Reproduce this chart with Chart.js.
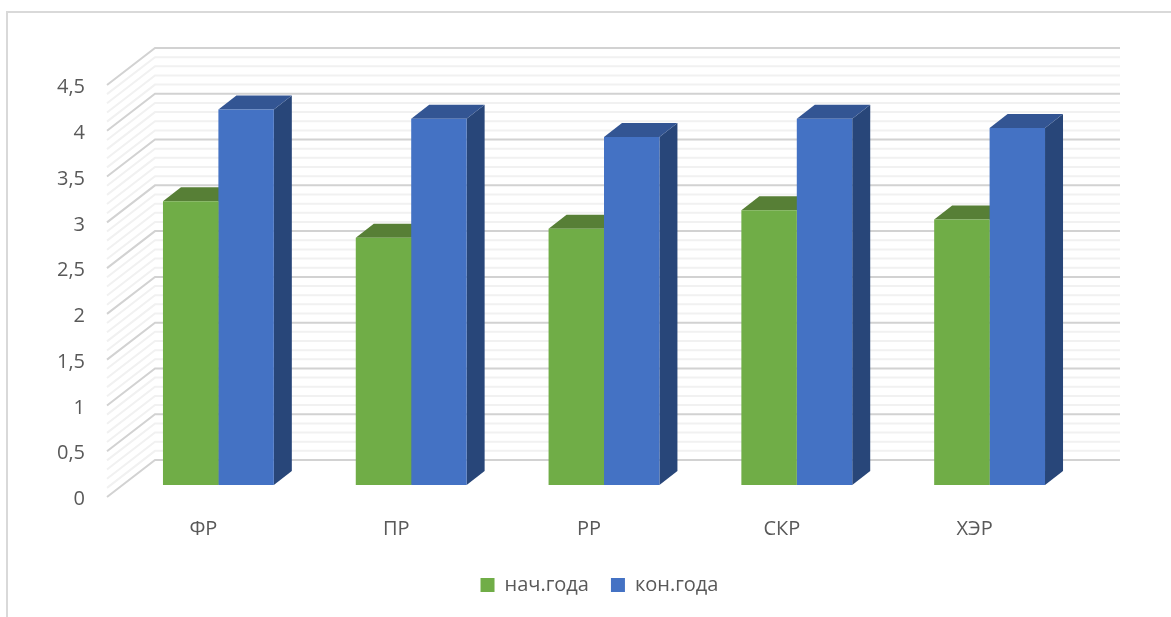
<!DOCTYPE html>
<html>
<head>
<meta charset="utf-8">
<title>Chart</title>
<script src="https://cdn.jsdelivr.net/npm/chart.js@4"></script>
<style>
    body { margin: 0; background: #fff; }
    canvas { display: block; }
</style>
</head>
<body>
<canvas id="myChart" width="1171" height="617"></canvas>
<script>
const categories = ['ФР', 'ПР', 'РР', 'СКР', 'ХЭР'];
const startYear = [3.1, 2.7, 2.8, 3, 2.9];
const endYear = [4.1, 4, 3.8, 4, 3.9];

const fontName = '"Open Sans", sans-serif';
const textColor = '#595959';

// 3d look: side and top faces of the bars, walls behind them
const barDepth = { x: 18, y: -14 };
const shades = [
    { top: '#577f36', side: '#4b6f2f' },
    { top: '#335593', side: '#284679' }
];

const frame = {
    id: 'frame',
    beforeDraw(chart) {
        const c = chart.ctx;
        c.save();
        c.strokeStyle = '#d9d9d9';
        c.lineWidth = 2;
        c.beginPath();
        c.moveTo(7, chart.height);
        c.lineTo(7, 12);
        c.lineTo(chart.width, 12);
        c.stroke();
        c.restore();
    }
};

const walls = {
    id: 'walls',
    beforeDatasetsDraw(chart) {
        const c = chart.ctx;
        const y = chart.scales.y;
        const area = chart.chartArea;
        const backLeft = area.left + 33;
        const backRight = area.right + 34;
        const frontLeft = area.left - 15;

        c.save();
        // light lines first so the main ones stay on top
        for (const main of [false, true]) {
            c.strokeStyle = main ? '#d2d2d2' : '#f1f1f1';
            c.lineWidth = 2;
            for (let i = 0; i <= 45; i++) {
                if ((i % 5 === 0) !== main) continue;
                const py = y.getPixelForValue(i / 10);
                c.beginPath();
                c.moveTo(frontLeft, py + 12);
                c.lineTo(backLeft, py - 25);
                c.lineTo(backRight, py - 25);
                c.stroke();
            }
        }

        chart.data.datasets.forEach((ds, i) => {
            chart.getDatasetMeta(i).data.forEach(bar => {
                const left = bar.x - bar.width / 2;
                const right = bar.x + bar.width / 2;
                c.fillStyle = shades[i].side;
                c.beginPath();
                c.moveTo(right, bar.y);
                c.lineTo(right + barDepth.x, bar.y + barDepth.y);
                c.lineTo(right + barDepth.x, bar.base + barDepth.y);
                c.lineTo(right, bar.base);
                c.closePath();
                c.fill();
                c.fillStyle = shades[i].top;
                c.beginPath();
                c.moveTo(left, bar.y);
                c.lineTo(left + barDepth.x, bar.y + barDepth.y);
                c.lineTo(right + barDepth.x, bar.y + barDepth.y);
                c.lineTo(right, bar.y);
                c.closePath();
                c.fill();
            });
        });
        c.restore();
    }
};

new Chart(document.getElementById('myChart'), {
    type: 'bar',
    data: {
        labels: categories,
        datasets: [
            { label: 'нач.года', data: startYear, backgroundColor: '#70ad47' },
            { label: 'кон.года', data: endYear, backgroundColor: '#4472c4' }
        ]
    },
    options: {
        responsive: false,
        animation: false,
        categoryPercentage: 0.575,
        barPercentage: 1,
        layout: {
            padding: { left: 28, right: 0, top: 73, bottom: 12 }
        },
        scales: {
            x: {
                grid: { display: false },
                border: { display: false },
                afterFit(scale) { scale.height = 68; },
                ticks: {
                    padding: 24,
                    labelOffset: -15,
                    color: textColor,
                    maxRotation: 0,
                    font: { family: fontName, size: 20 }
                }
            },
            y: {
                min: 0,
                max: 4.5,
                grid: { display: false },
                border: { display: false },
                afterFit(scale) { scale.width = 94; },
                ticks: {
                    stepSize: 0.5,
                    padding: 29,
                    labelOffset: 14.5,
                    color: textColor,
                    font: { family: fontName, size: 20 },
                    callback: value => String(value).replace('.', ',')
                }
            },
            // empty right axis, only keeps the legend centred where it belongs
            spacer: {
                position: 'right',
                grid: { display: false },
                border: { display: false },
                ticks: { display: false },
                afterFit(scale) { scale.width = 85; }
            }
        },
        plugins: {
            tooltip: { enabled: false },
            legend: {
                position: 'bottom',
                labels: {
                    boxWidth: 14,
                    boxHeight: 14,
                    padding: 22,
                    color: textColor,
                    font: { family: fontName, size: 20 }
                }
            }
        }
    },
    plugins: [frame, walls]
});
</script>
</body>
</html>
